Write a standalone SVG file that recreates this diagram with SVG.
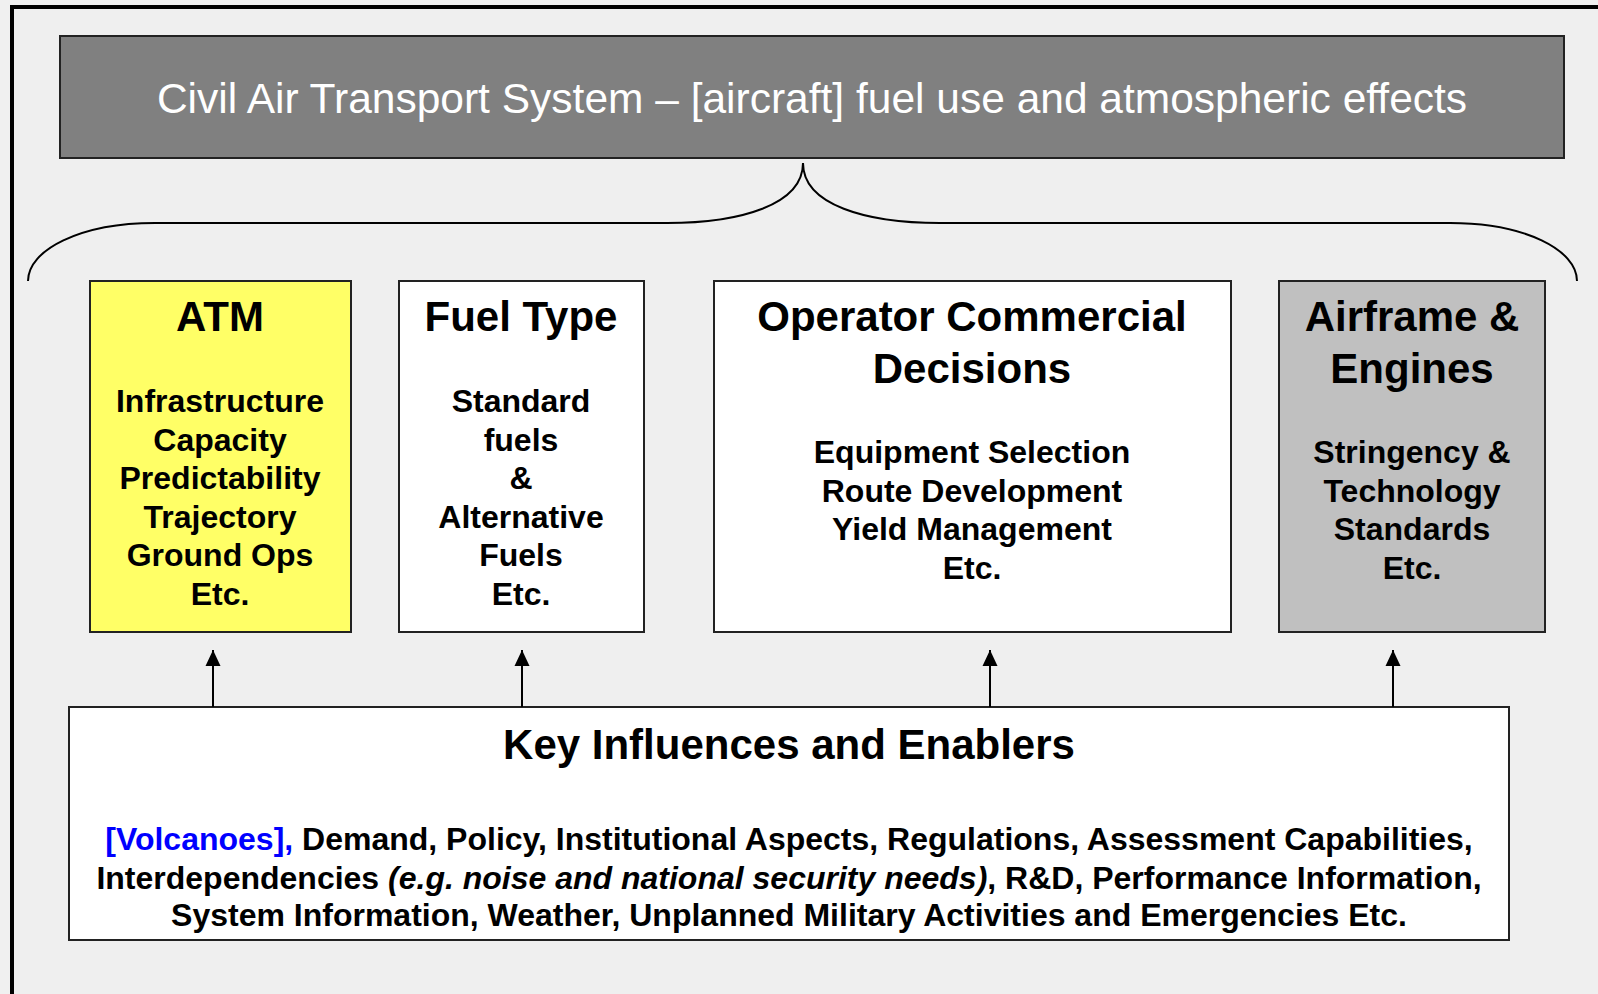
<svg xmlns="http://www.w3.org/2000/svg" width="1598" height="994" viewBox="0 0 1598 994">
<style>
.box{stroke:#222;stroke-width:2}
.t{font-family:"Liberation Sans",Arial,sans-serif;font-weight:bold;fill:#000;text-anchor:middle}
.h{font-size:42px}
.b{font-size:32px}
.conn{stroke:#000;stroke-width:2;fill:none}
</style>
<defs>
<marker id="arr" viewBox="0 0 16 16" refX="16" refY="8" markerWidth="16" markerHeight="16" markerUnits="userSpaceOnUse" orient="auto">
<path d="M0,0.5 L16,8 L0,15.5 z" fill="#000"/>
</marker>
</defs>
<rect x="0" y="0" width="1598" height="994" fill="#f0f0f0"/>
<rect x="12" y="7" width="1620" height="1020" fill="#efefef" stroke="#000" stroke-width="4"/>

<g id="title">
<rect x="60" y="36" width="1504" height="122" fill="#808080" stroke="#222" stroke-width="2"/>
<text x="812" y="113" font-family="Liberation Sans, Arial, sans-serif" font-size="42.5" fill="#fff" text-anchor="middle">Civil Air Transport System – [aircraft] fuel use and atmospheric effects</text>
</g>

<g id="brace">
<path class="conn" d="M803,163 C803,205 740,223 667,223 L155,223 C80,223 28,250 28,281"/>
<path class="conn" d="M803,163 C803,205 866,223 940,223 L1450,223 C1525,223 1577,250 1577,281"/>
</g>

<g id="atm">
<rect class="box" x="90" y="281" width="261" height="351" fill="#ffff66"/>
<text class="t h" x="220" y="331">ATM</text>
<text class="t b" x="220" y="412">Infrastructure</text>
<text class="t b" x="220" y="450.5">Capacity</text>
<text class="t b" x="220" y="489">Predictability</text>
<text class="t b" x="220" y="527.5">Trajectory</text>
<text class="t b" x="220" y="566">Ground Ops</text>
<text class="t b" x="220" y="604.5">Etc.</text>
</g>

<g id="fuel">
<rect class="box" x="399" y="281" width="245" height="351" fill="#fff"/>
<text class="t h" x="521" y="331">Fuel Type</text>
<text class="t b" x="521" y="412">Standard</text>
<text class="t b" x="521" y="450.5">fuels</text>
<text class="t b" x="521" y="489">&amp;</text>
<text class="t b" x="521" y="527.5">Alternative</text>
<text class="t b" x="521" y="566">Fuels</text>
<text class="t b" x="521" y="604.5">Etc.</text>
</g>

<g id="operator">
<rect class="box" x="714" y="281" width="517" height="351" fill="#fff"/>
<text class="t h" x="972" y="331">Operator Commercial</text>
<text class="t h" x="972" y="383">Decisions</text>
<text class="t b" x="972" y="463">Equipment Selection</text>
<text class="t b" x="972" y="501.5">Route Development</text>
<text class="t b" x="972" y="540">Yield Management</text>
<text class="t b" x="972" y="578.5">Etc.</text>
</g>

<g id="airframe">
<rect class="box" x="1279" y="281" width="266" height="351" fill="#c0c0c0"/>
<text class="t h" x="1412" y="331">Airframe &amp;</text>
<text class="t h" x="1412" y="383">Engines</text>
<text class="t b" x="1412" y="463">Stringency &amp;</text>
<text class="t b" x="1412" y="501.5">Technology</text>
<text class="t b" x="1412" y="540">Standards</text>
<text class="t b" x="1412" y="578.5">Etc.</text>
</g>

<g id="influences">
<rect class="box" x="69" y="707" width="1440" height="233" fill="#fff"/>
<text class="t h" x="789" y="759">Key Influences and Enablers</text>
<text class="t b" x="789" y="850"><tspan fill="#0000ff">[Volcanoes],</tspan> Demand, Policy, Institutional Aspects, Regulations, Assessment Capabilities,</text>
<text class="t b" x="789" y="889">Interdependencies <tspan font-style="italic">(e.g. noise and national security needs)</tspan>, R&amp;D, Performance Information,</text>
<text class="t b" x="789" y="926">System Information, Weather, Unplanned Military Activities and Emergencies Etc.</text>
</g>

<g id="connectors">
<line class="conn" x1="213" y1="707" x2="213" y2="650" marker-end="url(#arr)"/>
<line class="conn" x1="522" y1="707" x2="522" y2="650" marker-end="url(#arr)"/>
<line class="conn" x1="990" y1="707" x2="990" y2="650" marker-end="url(#arr)"/>
<line class="conn" x1="1393" y1="707" x2="1393" y2="650" marker-end="url(#arr)"/>
</g>
</svg>
